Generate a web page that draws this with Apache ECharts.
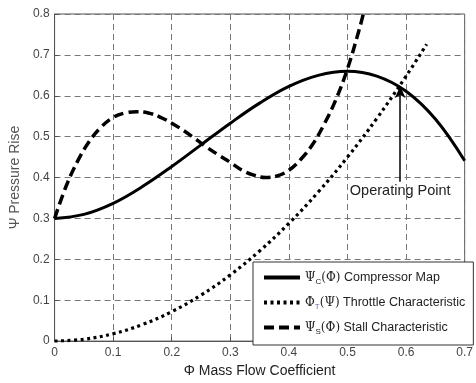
<!DOCTYPE html>
<html>
<head>
<meta charset="utf-8">
<script src="https://cdn.jsdelivr.net/npm/echarts@6/dist/echarts.min.js"></script>
<style>
  html, body { margin: 0; padding: 0; background: #fff; }
  #chart { width: 476px; height: 383px; }
</style>
</head>
<body>
<div id="chart"></div>
<script>
// Compressor map Ψc(Φ)
const phiComp = [0, 0.05, 0.1, 0.15, 0.2, 0.25, 0.3, 0.35, 0.4, 0.45, 0.5, 0.55, 0.6, 0.65, 0.7];
const psiComp = [0.300, 0.310, 0.337, 0.378, 0.427, 0.480, 0.533, 0.582, 0.623, 0.650, 0.660, 0.648, 0.611, 0.543, 0.441];

// Throttle characteristic ΦT(Ψ)
const phiThrottle = [0, 0.05, 0.1, 0.15, 0.2, 0.25, 0.3, 0.35, 0.4, 0.45, 0.5, 0.55, 0.6, 0.635];
const psiThrottle = [0, 0.0045, 0.018, 0.0405, 0.072, 0.1125, 0.162, 0.2205, 0.288, 0.3645, 0.45, 0.5445, 0.648, 0.726];

// Stall characteristic Ψs(Φ)
const phiStall = [0, 0.02, 0.04, 0.06, 0.08, 0.10, 0.12, 0.14, 0.16, 0.18, 0.20, 0.22, 0.24, 0.26, 0.28,
                  0.30, 0.32, 0.34, 0.36, 0.38, 0.40, 0.42, 0.44, 0.46, 0.48, 0.50, 0.52, 0.527];
const psiStall = [0.300, 0.380, 0.442, 0.490, 0.524, 0.547, 0.558, 0.561, 0.558, 0.548, 0.533, 0.515, 0.495, 0.474, 0.455,
                  0.437, 0.418, 0.406, 0.400, 0.404, 0.418, 0.444, 0.480, 0.530, 0.590, 0.666, 0.762, 0.800];

// Operating point arrow (from label up to the intersection)
const opPhi = 0.59;
const opArrowFrom = 0.39;
const opArrowTo = 0.624;

const xTicks = { min: 0, max: 0.7, interval: 0.1 };
const yTicks = { min: 0, max: 0.8, interval: 0.1 };

const pairs = (xs, ys) => xs.map((x, i) => [x, ys[i]]);

const font = 'Liberation Sans, Arial, sans-serif';
const greek = 'DejaVu Serif, Liberation Serif, serif';
const grey = '#444';

const legendLabels = {
  comp: '{g|Ψ}{sub|C}{g|(Φ)} Compressor Map',
  throttle: '{g|Φ}{subT|T}{g|(Ψ)} Throttle Characteristic',
  stall: '{g|Ψ}{sub|S}{g|(Φ)} Stall Characteristic'
};

const chart = echarts.init(document.getElementById('chart'), null, { renderer: 'canvas' });

chart.setOption({
  animation: false,
  backgroundColor: '#fff',
  grid: {
    left: 52, right: 4, top: 14, bottom: 40,
    show: true, borderColor: '#555', borderWidth: 1, backgroundColor: 'transparent'
  },
  legend: {
    data: ['comp', 'throttle', 'stall'],
    orient: 'vertical',
    left: 253, top: 262,
    padding: [9, 8, 9, 9],
    itemWidth: 36, itemHeight: 14, itemGap: 10,
    itemStyle: { opacity: 0 },
    lineStyle: { width: 4 },
    backgroundColor: '#fff', borderColor: '#333', borderWidth: 1, borderRadius: 0,
    formatter: name => legendLabels[name],
    textStyle: {
      fontFamily: font, fontSize: 12.5, color: '#222',
      rich: {
        g: { fontFamily: greek, fontSize: 12, color: '#222' },
        sub: { fontFamily: font, fontSize: 8, color: '#222', padding: [9, 0, 0, 0] },
        subT: { fontFamily: font, fontSize: 8, color: '#7a5cc0', padding: [9, 0, 0, 0] }
      }
    }
  },
  xAxis: {
    type: 'value', ...xTicks,
    name: 'Φ Mass Flow Coefficient', nameLocation: 'middle', nameGap: 22,
    nameTextStyle: { fontFamily: font, fontSize: 14, color: '#222' },
    axisLine: { show: true, lineStyle: { color: '#555', width: 1 } },
    axisTick: { show: true, inside: true, length: 4, lineStyle: { color: '#555' } },
    axisLabel: { fontFamily: font, fontSize: 12, color: grey, margin: 6 },
    splitLine: { show: true, lineStyle: { color: '#777', type: [6, 4], width: 1 } }
  },
  yAxis: {
    type: 'value', ...yTicks,
    name: 'Ψ Pressure Rise', nameLocation: 'middle', nameGap: 30,
    nameTextStyle: { fontFamily: font, fontSize: 14, color: '#555' },
    axisLine: { show: true, lineStyle: { color: '#555', width: 1 } },
    axisTick: { show: true, inside: true, length: 4, lineStyle: { color: '#555' } },
    axisLabel: { fontFamily: font, fontSize: 12, color: grey, margin: 5 },
    splitLine: { show: true, lineStyle: { color: '#777', type: [6, 4], width: 1 } }
  },
  series: [
    {
      name: 'comp', type: 'line', data: pairs(phiComp, psiComp),
      smooth: 0.4, showSymbol: false, symbol: 'none',
      lineStyle: { color: '#000', width: 3 },
      itemStyle: { color: '#000' },
      markLine: {
        silent: true, symbol: ['none', 'arrow'], symbolSize: [8, 12], precision: 3,
        lineStyle: { color: '#000', width: 1.5, type: 'solid' },
        label: {
          show: true, position: 'start', formatter: 'Operating Point', distance: 2,
          fontFamily: font, fontSize: 14.5, color: '#222'
        },
        data: [[{ coord: [opPhi, opArrowFrom] }, { coord: [opPhi, opArrowTo] }]]
      },
      z: 3
    },
    {
      name: 'throttle', type: 'line', data: pairs(phiThrottle, psiThrottle),
      smooth: 0.4, showSymbol: false, symbol: 'none',
      lineStyle: { color: '#000', width: 3.2, type: [3, 3.5] },
      itemStyle: { color: '#000' },
      z: 2
    },
    {
      name: 'stall', type: 'line', data: pairs(phiStall, psiStall),
      smooth: 0.4, showSymbol: false, symbol: 'none',
      lineStyle: { color: '#000', width: 3.5, type: [10, 5] },
      itemStyle: { color: '#000' },
      z: 2
    }
  ]
});
</script>
</body>
</html>
